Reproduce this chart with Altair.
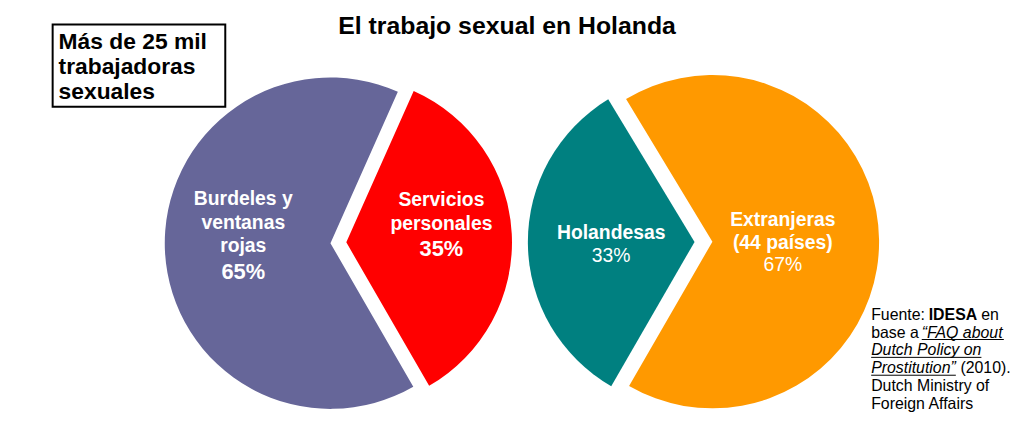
import math
import altair as alt
import pandas as pd

# ---------------- data ----------------
TITLE = "El trabajo sexual en Holanda"
BOX_LINES = ["Más de 25 mil", "trabajadoras", "sexuales"]

left_categories = ["Burdeles y ventanas rojas", "Servicios personales"]
left_labels = ["Burdeles y|ventanas|rojas", "Servicios|personales"]
left_values = [65, 35]
left_colors = ["#666699", "#FF0000"]

right_categories = ["Holandesas", "Extranjeras (44 países)"]
right_labels = ["Holandesas", "Extranjeras|(44 países)"]
right_values = [33, 67]
right_colors = ["#008080", "#FF9900"]

FONT = "Liberation Sans"
M = 8      # page margin
CAP = 13.5  # approx cap height of label font


def p(v):
    return v - M


def pie_layers(cats, labels, values, colors, cx, cy, R, start_deg, explode,
               rl, ldx, ldy, name_lh, pct_lh, name_size, pct_size, pct_weight):
    df = pd.DataFrame({"cat": cats, "label": labels, "value": values,
                       "order": list(range(len(cats)))})
    s = math.radians(start_deg)
    base = (
        alt.Chart(df)
        .transform_window(cum="sum(value)", sort=[alt.SortField("order")], frame=[None, 0])
        .transform_joinaggregate(total="sum(value)")
        .transform_calculate(t0=f"{s} + 2*PI*(datum.cum - datum.value)/datum.total")
        .transform_calculate(t1=f"{s} + 2*PI*datum.cum/datum.total")
        .transform_calculate(mid="(datum.t0 + datum.t1)/2")
        .transform_calculate(cxp=f"{p(cx)} + {explode}*sin(datum.mid)")
        .transform_calculate(cyp=f"{p(cy)} - {explode}*cos(datum.mid)")
        .transform_calculate(lx=f"datum.cxp + {rl}*sin(datum.mid) + {ldx}")
        .transform_calculate(ly=f"datum.cyp - {rl}*cos(datum.mid) + {ldy}")
        .transform_calculate(lines="split(datum.label, '|')")
        .transform_calculate(pct="datum.value + '%'")
        .transform_calculate(n="length(datum.lines)")
        .transform_calculate(
            fb=f"datum.ly - ({CAP} + (datum.n-1)*{name_lh} + {pct_lh})/2 + {CAP}")
        .transform_calculate(pb=f"datum.fb + (datum.n-1)*{name_lh} + {pct_lh}")
    )
    arcs = base.mark_arc(radius=R).encode(
        theta=alt.Theta("t0:Q", scale=None),
        theta2="t1:Q",
        x=alt.X("cxp:Q", scale=None, axis=None),
        y=alt.Y("cyp:Q", scale=None, axis=None),
        color=alt.Color("cat:N", scale=alt.Scale(domain=cats, range=colors), legend=None),
    )
    names = base.mark_text(
        align="center", baseline="alphabetic", font=FONT, fontSize=name_size,
        fontWeight="bold", color="white", lineHeight=name_lh,
    ).encode(
        x=alt.X("lx:Q", scale=None, axis=None),
        y=alt.Y("fb:Q", scale=None, axis=None),
        text="lines:N",
    )
    pcts = base.mark_text(
        align="center", baseline="alphabetic", font=FONT, fontSize=pct_size,
        fontWeight=pct_weight, color="white",
    ).encode(
        x=alt.X("lx:Q", scale=None, axis=None),
        y=alt.Y("pb:Q", scale=None, axis=None),
        text="pct:N",
    )
    return [arcs, names, pcts]


left = pie_layers(left_categories, left_labels, left_values, left_colors,
                  cx=341, cy=243, R=167, start_deg=150, explode=8,
                  rl=92, ldx=4, ldy=-13, name_lh=24, pct_lh=26.5,
                  name_size=19.5, pct_size=22, pct_weight="bold")
right = pie_layers(right_categories, right_labels, right_values, right_colors,
                   cx=709, cy=242, R=168, start_deg=210, explode=9,
                   rl=77.5, ldx=-6.5, ldy=1, name_lh=23, pct_lh=23,
                   name_size=19.5, pct_size=19.5, pct_weight="normal")

dummy = pd.DataFrame({"k": [0]})
FS = 16


def txt(text, x, y, size=FS, weight="normal", style="normal", align="left"):
    return alt.Chart(dummy).mark_text(
        text=text, align=align, baseline="alphabetic", font=FONT, fontSize=size,
        fontWeight=weight, fontStyle=style, color="black",
    ).encode(x=alt.value(p(x)), y=alt.value(p(y)))


def uline(x0, x1, y):
    return alt.Chart(dummy).mark_rule(color="black", strokeWidth=1).encode(
        x=alt.value(p(x0)), x2=alt.value(p(x1)), y=alt.value(p(y)))


title = txt(TITLE, 511, 33, size=25, weight="bold", align="center")

box = alt.Chart(dummy).mark_rect(fill="white", stroke="black", strokeWidth=2).encode(
    x=alt.value(p(53)), x2=alt.value(p(227)), y=alt.value(p(23)), y2=alt.value(p(106)))
box_text = alt.Chart(dummy).mark_text(
    text=BOX_LINES, align="left", baseline="alphabetic", font=FONT, fontSize=23,
    fontWeight="bold", color="black", lineHeight=25,
).encode(x=alt.value(p(59)), y=alt.value(p(48)))

b0, lh = 320.5, 18
src = [
    txt("Fuente:", 878, b0),
    txt("IDESA", 936, b0, weight="bold"),
    txt("en", 989, b0),
    txt("base a", 878, b0 + lh),
    txt("\u201cFAQ about", 929, b0 + lh, style="italic"),
    uline(929, 929 + 5.169 * FS, b0 + lh + 2),
    txt("Dutch Policy on", 878, b0 + 2 * lh, style="italic"),
    uline(878, 878 + 6.947 * FS, b0 + 2 * lh + 2),
    txt("Prostitution\u201d", 878, b0 + 3 * lh, style="italic"),
    uline(878, 878 + 5.335 * FS, b0 + 3 * lh + 2),
    txt("(2010).", 968, b0 + 3 * lh),
    txt("Dutch Ministry of", 878, b0 + 4 * lh),
    txt("Foreign Affairs", 878, b0 + 5 * lh),
]

chart = (
    alt.layer(*left, *right, title, box, box_text, *src)
    .resolve_scale(color="independent")
    .properties(width=1016, height=413, padding=0,
                autosize=alt.AutoSizeParams(type="none"), background="white")
    .configure_view(stroke=None)
)

chart.save("out.html", embed_options={"renderer": "svg", "actions": False})
